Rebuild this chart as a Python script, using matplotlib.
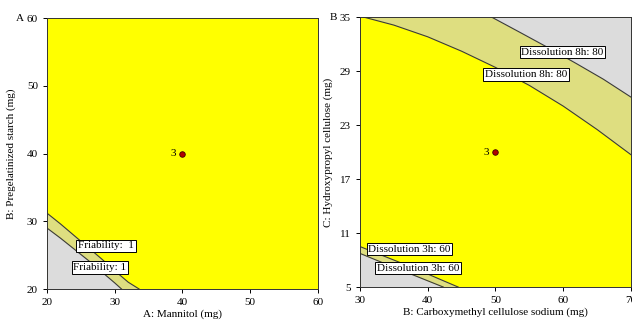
import numpy as np
import matplotlib
matplotlib.use("Agg")
import matplotlib.pyplot as plt

plt.rcParams['font.family'] = ['Liberation Serif', 'DejaVu Serif']
plt.rcParams['font.size'] = 8

# Panel A: Mannitol vs Pregelatinized starch
a_xlim = (20, 60)
a_ylim = (20, 60)
a_xticks = [20, 30, 40, 50, 60]
a_yticks = [20, 30, 40, 50, 60]
fri_upper_x = [20, 22, 24, 26, 28, 30, 32, 33.6]
fri_upper_y = [31.2, 29.6, 27.9, 26.2, 24.5, 22.7, 21.0, 20]
fri_lower_x = [20, 22, 24, 26, 28, 30, 31.0]
fri_lower_y = [29.0, 27.5, 25.9, 24.3, 22.6, 20.9, 20]
a_labels = ["Friability:  1", "Friability: 1"]
a_label_pos = [(28.7, 26.4), (27.8, 23.2)]
a_point = (40, 40)

# Panel B: CMC sodium vs Hydroxypropyl cellulose
b_xlim = (30, 70)
b_ylim = (5, 35)
b_xticks = [30, 40, 50, 60, 70]
b_yticks = [5, 11, 17, 23, 29, 35]
d8_lower_x = [30.5, 35, 40, 45, 50, 55, 60, 65, 70]
d8_lower_y = [35.0, 34.1, 32.8, 31.2, 29.4, 27.4, 25.1, 22.5, 19.7]
d8_upper_x = [49.4, 53.6, 58, 62, 65.9, 70]
d8_upper_y = [35.0, 33.3, 31.5, 29.8, 28.1, 26.1]
d3_upper_x = [30, 34, 38, 42, 44.5]
d3_upper_y = [9.5, 8.3, 7.1, 5.8, 5]
d3_lower_x = [30, 34, 38, 42.3]
d3_lower_y = [8.74, 7.5, 6.3, 5]
b_labels = ["Dissolution 8h: 80", "Dissolution 8h: 80",
            "Dissolution 3h: 60", "Dissolution 3h: 60"]
b_label_pos = [(59.9, 31.1), (54.5, 28.6), (37.3, 9.2), (38.6, 7.1)]
b_point = (50, 20)

yellow = '#ffff00'
band = '#dede80'
gray = '#dcdcdc'
line_c = '#3a3a3a'

fig = plt.figure(figsize=(6.32, 3.24), dpi=100)
ax1 = fig.add_axes([0.0744, 0.108, 0.4286, 0.836])
ax2 = fig.add_axes([0.5696, 0.114, 0.4288, 0.8335])


def box_label(ax, text, pos):
    ax.text(pos[0], pos[1], text, ha='center', va='center', fontsize=8,
            bbox=dict(boxstyle='square,pad=0.15', fc='white', ec='black', lw=0.7),
            zorder=5)


def design_point(ax, pt, xoff):
    ax.plot(pt[0], pt[1], 'o', ms=4, mfc='#b00000', mec='#400000', mew=0.6, zorder=6)
    ax.text(pt[0] - xoff, pt[1], '3', ha='right', va='center', fontsize=8)


# panel A
ax1.set_facecolor(yellow)
ax1.fill(np.r_[fri_upper_x, fri_lower_x[::-1]], np.r_[fri_upper_y, fri_lower_y[::-1]],
         color=band, lw=0)
ax1.fill_between(fri_lower_x, fri_lower_y, a_ylim[0], color=gray, lw=0)
ax1.plot(fri_upper_x, fri_upper_y, color=line_c, lw=0.8)
ax1.plot(fri_lower_x, fri_lower_y, color=line_c, lw=0.8)
for t, p in zip(a_labels, a_label_pos):
    box_label(ax1, t, p)
design_point(ax1, a_point, 1.0)
ax1.set_xlim(a_xlim)
ax1.set_ylim(a_ylim)
ax1.set_xticks(a_xticks)
ax1.set_yticks(a_yticks)
ax1.set_xlabel('A: Mannitol (mg)', labelpad=2)
ax1.set_ylabel('B: Pregelatinized starch (mg)', labelpad=8)
ax1.text(-0.085, 1.0, 'A', transform=ax1.transAxes, ha='right', va='center')

# panel B
ax2.set_facecolor(yellow)
ax2.fill(np.r_[d8_lower_x, d8_upper_x[::-1]], np.r_[d8_lower_y, d8_upper_y[::-1]],
         color=band, lw=0)
ax2.fill_between(d8_upper_x, d8_upper_y, b_ylim[1], color=gray, lw=0)
ax2.fill(np.r_[d3_upper_x, d3_lower_x[::-1]], np.r_[d3_upper_y, d3_lower_y[::-1]],
         color=band, lw=0)
ax2.fill_between(d3_lower_x, d3_lower_y, b_ylim[0], color=gray, lw=0)
for xs, ys in [(d8_lower_x, d8_lower_y), (d8_upper_x, d8_upper_y),
               (d3_upper_x, d3_upper_y), (d3_lower_x, d3_lower_y)]:
    ax2.plot(xs, ys, color=line_c, lw=0.8)
for t, p in zip(b_labels, b_label_pos):
    box_label(ax2, t, p)
design_point(ax2, b_point, 1.0)
ax2.set_xlim(b_xlim)
ax2.set_ylim(b_ylim)
ax2.set_xticks(b_xticks)
ax2.set_yticks(b_yticks)
ax2.set_xlabel('B: Carboxymethyl cellulose sodium (mg)', labelpad=2)
ax2.set_ylabel('C: Hydroxypropyl cellulose (mg)', labelpad=5)
ax2.text(-0.085, 1.0, 'B', transform=ax2.transAxes, ha='right', va='center')

for ax in (ax1, ax2):
    ax.tick_params(direction='out', length=3, width=0.7, pad=3.5, labelsize=8)
    for s in ax.spines.values():
        s.set_linewidth(0.7)
        s.set_color('#333333')

fig.savefig('out.png', dpi=100)
